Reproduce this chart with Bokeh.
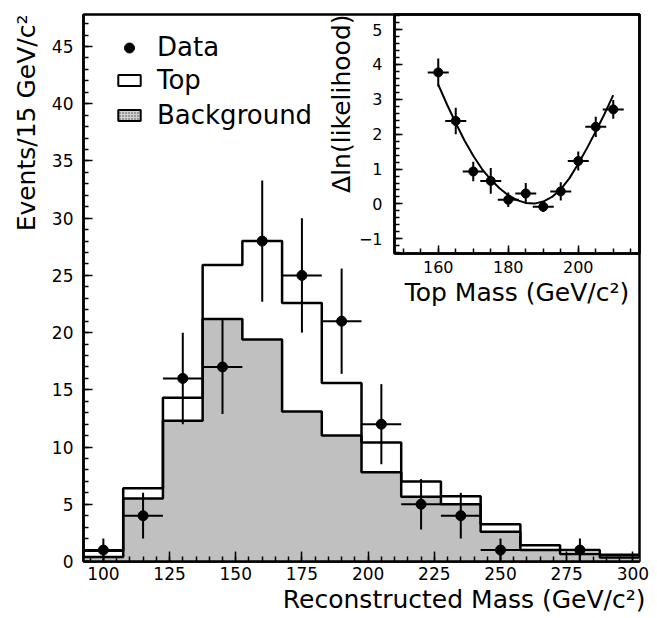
import numpy as np
from bokeh.plotting import figure
from bokeh.models import (Legend, LegendItem, Range1d, SingleIntervalTicker, Title)
from bokeh.layouts import column
from bokeh.embed import file_html
from bokeh.resources import INLINE

# ---------------- main histogram (15 GeV/c^2 bins) ----------------
bin_centers = [100, 115, 130, 145, 160, 175, 190, 205, 220, 235, 250, 265, 280, 295]
bin_half = 7.5
top_total = [0.95, 6.4, 14.3, 25.9, 28.0, 22.6, 15.6, 10.4, 7.0, 5.7, 3.25, 1.42, 1.0, 0.58]
background = [0.4, 5.5, 12.3, 21.2, 19.4, 13.1, 11.0, 7.8, 5.65, 5.0, 2.6, 1.0, 0.65, 0.35]

data_x = [100, 115, 130, 145, 160, 175, 190, 205, 220, 235, 250, 280]
data_y = [1, 4, 16, 17, 28, 25, 21, 12, 5, 4, 1, 1]
data_err = [1.0, 2.0, 4.0, 4.1, 5.3, 5.0, 4.6, 3.5, 2.2, 2.0, 1.0, 1.0]

# ---------------- inset: likelihood vs top mass ----------------
mass_points = [160, 165, 170, 175, 180, 185, 190, 195, 200, 205, 210]
dlnl = [3.77, 2.38, 0.93, 0.66, 0.12, 0.30, -0.08, 0.36, 1.23, 2.21, 2.71]
dlnl_err = [0.40, 0.38, 0.28, 0.37, 0.21, 0.30, 0.15, 0.26, 0.27, 0.29, 0.27]
mass_err = 3.0
fit_mass = [160, 162.5, 165, 167.5, 170, 172.5, 175, 177.5, 180, 182.5, 185,
            187.5, 190, 192.5, 195, 197.5, 200, 202.5, 205, 207.5, 210]
fit_dlnl = [3.42, 2.85, 2.32, 1.82, 1.38, 1.00, 0.70, 0.45, 0.25, 0.11, 0.03,
            0.01, 0.07, 0.20, 0.42, 0.74, 1.15, 1.60, 2.08, 2.58, 3.12]

FONT = "DejaVu Sans"
LABEL_SIZE = "25px"

# ======================= main figure =======================
W, H = 650, 616
FL, FR, FT, FB = 83, 11, 14, 55   # frame 556 x 547
p = figure(width=W, height=H, output_backend="svg", toolbar_location=None,
           x_range=Range1d(92.5, 302.5), y_range=Range1d(0, 47.8),
           min_border_left=FL, min_border_right=FR, min_border_top=FT,
           min_border_bottom=FB)
p.background_fill_alpha = 0
p.border_fill_alpha = 0
p.grid.visible = False
p.outline_line_color = "black"
p.outline_line_width = 2.5

edges = [c - bin_half for c in bin_centers] + [bin_centers[-1] + bin_half]
top_ext = top_total + [top_total[-1]]
bg_ext = background + [background[-1]]
zeros = [0] * len(edges)

p.varea_step(x=edges, y1=zeros, y2=bg_ext, step_mode="after", fill_color="#c0c0c0")
p.step(x=edges, y=bg_ext, mode="after", line_color="black", line_width=2.5)
p.step(x=edges, y=top_ext, mode="after", line_color="black", line_width=2.5)

dx = np.array(data_x, dtype=float)
dy = np.array(data_y, dtype=float)
de = np.array(data_err, dtype=float)
p.segment(x0=dx - bin_half, x1=dx + bin_half, y0=dy, y1=dy, line_color="black", line_width=2)
p.segment(x0=dx, x1=dx, y0=dy - de, y1=dy + de, line_color="black", line_width=2)
pts = p.scatter(x=data_x, y=data_y, size=10, marker="circle", fill_color="black",
                line_color="black")

# hidden renderers that only provide the legend swatches
top_sw = p.quad(left=edges[:-1], right=edges[1:], bottom=background, top=top_total,
                fill_color="white", line_color="black", line_width=2, visible=False)
bg_sw = p.quad(left=edges[:-1], right=edges[1:], bottom=[0] * len(background),
               top=background, fill_color="#d0d0d0", hatch_pattern="dot",
               hatch_scale=3, hatch_color="#444444", hatch_weight=1,
               line_color="black", line_width=2, visible=False)

for ax in (p.xaxis[0], p.yaxis[0]):
    ax.axis_line_width = 2.5
    ax.major_tick_out = 0
    ax.minor_tick_out = 0
    ax.major_tick_line_width = 1.5
    ax.minor_tick_line_width = 1.5
    ax.major_label_text_font = FONT
    ax.major_label_text_color = "black"
p.xaxis.ticker = SingleIntervalTicker(interval=25, num_minor_ticks=5)
p.yaxis.ticker = SingleIntervalTicker(interval=5, num_minor_ticks=5)
p.xaxis.major_tick_in = 10
p.xaxis.minor_tick_in = 5
p.yaxis.major_tick_in = 9
p.yaxis.minor_tick_in = 5
p.xaxis.major_label_text_font_size = "17px"
p.yaxis.major_label_text_font_size = "17px"
p.xaxis.major_label_standoff = 5
p.yaxis.major_label_standoff = 10

p.add_layout(Title(text="Reconstructed Mass (GeV/c²)", align="right", offset=-6,
                   standoff=0, text_font=FONT, text_font_size=LABEL_SIZE,
                   text_font_style="normal", text_color="black"), "below")
p.add_layout(Title(text="Events/15 GeV/c²", align="right", standoff=16,
                   text_font=FONT, text_font_size=LABEL_SIZE,
                   text_font_style="normal", text_color="black"), "left")

frame_h = H - FT - FB
leg1 = Legend(items=[LegendItem(label="Data", renderers=[pts])],
              location=(32, frame_h - 18 - 30), glyph_width=28, glyph_height=25,
              label_text_font=FONT, label_text_font_size="26px", label_standoff=14,
              label_text_color="black",
              padding=0, margin=0, border_line_alpha=0, background_fill_alpha=0,
              inactive_fill_alpha=0)
leg2 = Legend(items=[LegendItem(label="Top", renderers=[top_sw]),
                     LegendItem(label="Background", renderers=[bg_sw])],
              location=(32, frame_h - 51 - 65), glyph_width=28, glyph_height=14,
              label_text_font=FONT, label_text_font_size="26px", label_standoff=14,
              label_text_color="black",
              spacing=5, padding=0, margin=0, border_line_alpha=0,
              background_fill_alpha=0, inactive_fill_alpha=0)
p.add_layout(leg1)
p.add_layout(leg2)

# ======================= inset figure =======================
IX = 311
IL, IR, IT, IB = FL, FR, FT, 64
IW = 650 - IX
IH = IT + 239 + IB
inset = figure(width=IW, height=IH, output_backend="svg", toolbar_location=None,
               x_range=Range1d(147.5, 217.5), y_range=Range1d(-1.42, 5.43),
               min_border_left=IL, min_border_right=IR, min_border_top=IT,
               min_border_bottom=IB)
inset.background_fill_alpha = 0
inset.border_fill_alpha = 0
inset.grid.visible = False
inset.outline_line_color = "black"
inset.outline_line_width = 2.5

inset.line(x=fit_mass, y=fit_dlnl, line_color="black", line_width=2)
mx = np.array(mass_points, dtype=float)
my = np.array(dlnl, dtype=float)
me = np.array(dlnl_err, dtype=float)
inset.segment(x0=mx - mass_err, x1=mx + mass_err, y0=my, y1=my, line_color="black", line_width=2)
inset.segment(x0=mx, x1=mx, y0=my - me, y1=my + me, line_color="black", line_width=2)
inset.scatter(x=mass_points, y=dlnl, size=9, marker="circle", fill_color="black",
              line_color="black")

for ax in (inset.xaxis[0], inset.yaxis[0]):
    ax.axis_line_width = 2.5
    ax.major_tick_out = 0
    ax.minor_tick_out = 0
    ax.major_tick_in = 8
    ax.minor_tick_in = 5
    ax.major_tick_line_width = 1.5
    ax.minor_tick_line_width = 1.5
    ax.major_label_text_font = FONT
    ax.major_label_text_font_size = "16px"
    ax.major_label_text_color = "black"
inset.xaxis.ticker = SingleIntervalTicker(interval=20, num_minor_ticks=4)
inset.yaxis.ticker = SingleIntervalTicker(interval=1, num_minor_ticks=5)
inset.xaxis.major_label_standoff = 7
inset.yaxis.major_label_standoff = 12

inset.add_layout(Title(text="Top Mass (GeV/c²)", align="center", standoff=0,
                       text_font=FONT, text_font_size=LABEL_SIZE,
                       text_font_style="normal", text_color="black"), "below")
inset.add_layout(Title(text="Δln(likelihood)", align="right", standoff=0,
                       text_font=FONT, text_font_size=LABEL_SIZE,
                       text_font_style="normal", text_color="black"), "left")

inset.margin = (0, 0, -IH, IX)
p.margin = (0, 0, 0, 0)

layout = column(inset, p)
layout.margin = (0, 0, 0, 0)

open("out.html", "w").write(file_html(layout, INLINE))
